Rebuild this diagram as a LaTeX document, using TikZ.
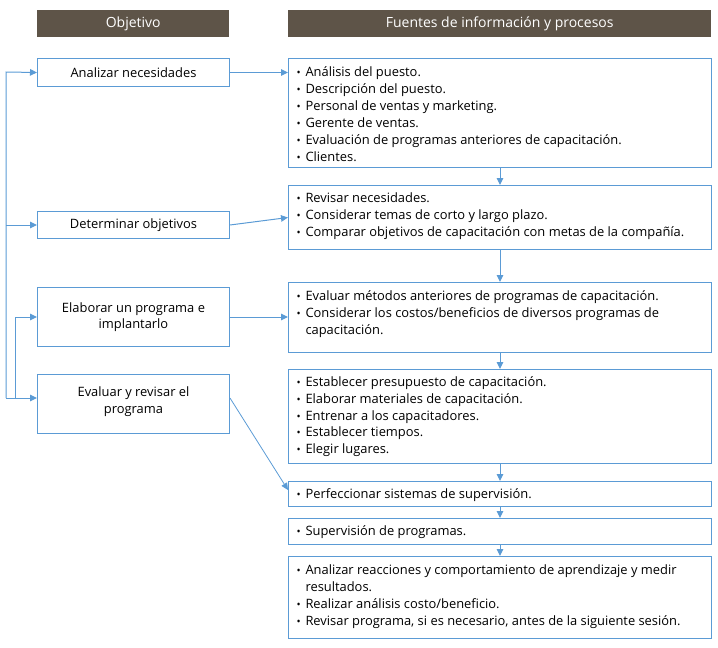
\documentclass[tikz,border=0pt]{standalone}
\usepackage{fontspec}
\usepackage{graphicx}
\setmainfont{Open Sans}
\newfontfamily\hdfont{Open Sans}
\usetikzlibrary{arrows.meta}
\definecolor{bl}{HTML}{5B9BD5}
\definecolor{hd}{HTML}{5E5448}
\newcommand{\bitem}[1]{\par\hangindent=9pt\hangafter=1\noindent\strut\makebox[9pt][l]{\scalebox{0.85}{\textbullet}}#1}
\newcommand{\rtext}[2]{\parbox[c][#1][t]{407pt}{\raggedright\vspace*{6.4pt}#2}}
\tikzset{
  hdr/.style={fill=hd, text=white, minimum height=27pt, inner sep=0pt, anchor=north west, font=\hdfont\fontsize{14}{16}\selectfont},
  lbox/.style={draw=bl, line width=1pt, fill=white, anchor=north west, inner sep=0pt, minimum width=192pt, align=center, font=\fontsize{12.9}{16.5}\selectfont},
  rbox/.style={draw=bl, line width=1pt, fill=white, anchor=north west, inner xsep=8pt, inner ysep=0pt, font=\fontsize{12.9}{16.9}\selectfont},
  arr/.style={draw=bl, line width=1pt, -{Triangle[length=7pt,width=6.5pt]}}
}
\begin{document}
\begin{tikzpicture}[x=1pt,y=-1pt]
\useasboundingbox (0,0) rectangle (718,648);
\node[hdr, minimum width=192pt] (h1) at (37,10) {Objetivo};
\node[hdr, minimum width=423pt] (h2) at (288,10) {Fuentes de información y procesos};

\node[lbox, minimum height=28pt] (a1) at (37,58) {Analizar necesidades};
\node[lbox, minimum height=27pt] (a2) at (37,211) {Determinar objetivos};
\node[lbox, minimum height=59pt] (a3) at (37,287) {Elaborar un programa e\\implantarlo};
\node[lbox, minimum height=59pt] (a4) at (37,374) {Evaluar y revisar el\\programa\rule[-8pt]{0pt}{8pt}};

\node[rbox] (b1) at (288,58) {\rtext{109pt}{%
\bitem{Análisis del puesto.}
\bitem{Descripción del puesto.}
\bitem{Personal de ventas y marketing.}
\bitem{Gerente de ventas.}
\bitem{Evaluación de programas anteriores de capacitación.}
\bitem{Clientes.}}};
\node[rbox] (b2) at (288,185) {\rtext{64pt}{\vspace*{-1pt}%
\bitem{Revisar necesidades.}
\bitem{Considerar temas de corto y largo plazo.}
\bitem{Comparar objetivos de capacitación con metas de la compañía.}}};
\node[rbox] (b3) at (288,282) {\rtext{70pt}{%
\bitem{Evaluar métodos anteriores de programas de capacitación.}
\bitem{Considerar los costos/beneficios de diversos programas de\newline\strut capacitación.}}};
\node[rbox] (b4) at (288,369) {\rtext{94pt}{\vspace*{-1.5pt}%
\bitem{Establecer presupuesto de capacitación.}
\bitem{Elaborar materiales de capacitación.}
\bitem{Entrenar a los capacitadores.}
\bitem{Establecer tiempos.}
\bitem{Elegir lugares.}}};
\node[rbox] (b5) at (288,481) {\rtext{25pt}{\vspace*{-1.3pt}%
\bitem{Perfeccionar sistemas de supervisión.}}};
\node[rbox] (b6) at (288,518) {\rtext{26pt}{\vspace*{-0.8pt}%
\bitem{Supervisión de programas.}}};
\node[rbox] (b7) at (288,556) {\rtext{82pt}{%
\bitem{Analizar reacciones y comportamiento de aprendizaje y medir\newline\strut resultados.}
\bitem{Realizar análisis costo/beneficio.}
\bitem{Revisar programa, si es necesario, antes de la siguiente sesión.}}};

% left feedback connectors
\coordinate (o1) at (6,72);
\coordinate (o2) at (6,398);
\coordinate (i1) at (15,398);
\coordinate (i2) at (15,317);
\draw[arr] (o2) -- (o1) -- (a1.west);
\draw[arr] (o2 |- a2.west) -- (a2.west);
\draw[arr] (o2) -- (o2 -| a4.west);
\draw[arr] (i1) -- (i2) -- (a3.west);

% objective to sources
\draw[arr] (a1.east) -- (a1.east -| b1.west);
\draw[arr] (a2.east) -- (b2.west);
\draw[arr] (a3.east) -- (a3.east -| b3.west);
\draw[arr, line width=0.8pt] (a4.east |- o2) -- ([yshift=4pt]b5.west);

% vertical chain
\foreach \u/\v in {b1/b2,b2/b3,b3/b4,b4/b5,b5/b6,b6/b7}
  \draw[arr] (\u.south) -- (\v.north);
\end{tikzpicture}
\end{document}
